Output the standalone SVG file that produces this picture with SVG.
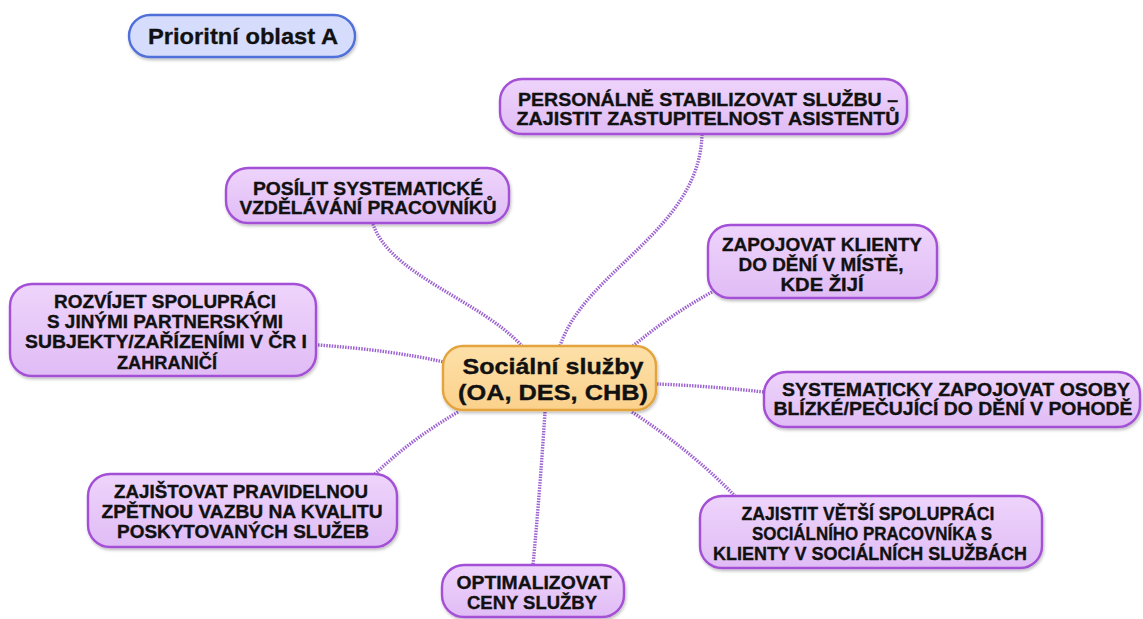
<svg xmlns="http://www.w3.org/2000/svg" width="1143" height="619" viewBox="0 0 1143 619">
<style>
.bg{fill:#ffffff}
.node{fill:url(#purp);stroke:#a34fd6;stroke-width:2.4;filter:url(#sh)}
.center{fill:url(#orng);stroke:#e3a43c;stroke-width:2.4;filter:url(#sh)}
.title{fill:#d6dcfb;stroke:#4f6fd8;stroke-width:2.4;filter:url(#sh)}
.t{font-family:"Liberation Sans",Arial,sans-serif;font-weight:bold;font-size:19px;fill:#111111;stroke:#111111;stroke-width:0.35;text-anchor:middle}
.tc{font-family:"Liberation Sans",Arial,sans-serif;font-weight:bold;font-size:22px;fill:#111111;stroke:#111111;stroke-width:0.35;text-anchor:middle}
.tt{font-family:"Liberation Sans",Arial,sans-serif;font-weight:bold;font-size:22px;fill:#111111;stroke:#111111;stroke-width:0.3;text-anchor:middle}
.c{fill:none;stroke:#9d62d2;stroke-width:3.4;stroke-dasharray:1.5 1.2}
</style>
<defs>
<linearGradient id="purp" x1="0" y1="0" x2="0" y2="1">
<stop offset="0" stop-color="#eed4fb"/>
<stop offset="1" stop-color="#e0bcf5"/>
</linearGradient>
<linearGradient id="orng" x1="0" y1="0" x2="0" y2="1">
<stop offset="0" stop-color="#fde0a8"/>
<stop offset="1" stop-color="#fbd18c"/>
</linearGradient>
<filter id="sh" x="-10%" y="-20%" width="120%" height="150%">
<feDropShadow dx="1" dy="2" stdDeviation="1.5" flood-color="#000000" flood-opacity="0.25"/>
</filter>
</defs>
<rect class="bg" x="0" y="0" width="1143" height="619"/>
<g id="connectors">
<path class="c" d="M560,346 C585,270 700,230 702,134"/>
<path class="c" d="M373,224 C390,275 480,300 522,346"/>
<path class="c" d="M318,345 Q390,350 444,362"/>
<path class="c" d="M712,292 Q670,315 633,346"/>
<path class="c" d="M657,384 Q710,386 764,392"/>
<path class="c" d="M458,412 Q410,440 375,474"/>
<path class="c" d="M545,412 Q540,490 533,565"/>
<path class="c" d="M632,412 Q690,450 735,496"/>
</g>
<g id="title">
<rect class="title" x="129" y="15" width="226" height="42" rx="21"/>
<text class="tt" x="243" y="44" textLength="190" lengthAdjust="spacingAndGlyphs">Prioritní oblast A</text>
</g>
<g id="center">
<rect class="center" x="443" y="346" width="213" height="64" rx="20"/>
<text class="tc" x="553" y="374" textLength="181" lengthAdjust="spacingAndGlyphs">Sociální služby</text>
<text class="tc" x="553" y="400" textLength="190" lengthAdjust="spacingAndGlyphs">(OA, DES, CHB)</text>
</g>
<g id="n-personalne">
<rect class="node" x="500" y="79" width="407" height="55" rx="22"/>
<text class="t" x="708" y="106" textLength="380" lengthAdjust="spacingAndGlyphs">PERSONÁLNĚ STABILIZOVAT SLUŽBU –</text>
<text class="t" x="708" y="125" textLength="383" lengthAdjust="spacingAndGlyphs">ZAJISTIT ZASTUPITELNOST ASISTENTŮ</text>
</g>
<g id="n-posilit">
<rect class="node" x="226" y="168" width="283" height="55" rx="22"/>
<text class="t" x="368" y="195" textLength="230" lengthAdjust="spacingAndGlyphs">POSÍLIT SYSTEMATICKÉ</text>
<text class="t" x="368" y="214" textLength="257" lengthAdjust="spacingAndGlyphs">VZDĚLÁVÁNÍ PRACOVNÍKŮ</text>
</g>
<g id="n-rozvijet">
<rect class="node" x="10" y="284" width="306" height="92" rx="22"/>
<text class="t" x="165" y="308" textLength="222" lengthAdjust="spacingAndGlyphs">ROZVÍJET SPOLUPRÁCI</text>
<text class="t" x="165" y="328" textLength="236" lengthAdjust="spacingAndGlyphs">S JINÝMI PARTNERSKÝMI</text>
<text class="t" x="166" y="348" textLength="282" lengthAdjust="spacingAndGlyphs">SUBJEKTY/ZAŘÍZENÍMI V ČR I</text>
<text class="t" x="167" y="369" textLength="100" lengthAdjust="spacingAndGlyphs">ZAHRANIČÍ</text>
</g>
<g id="n-zapojovat">
<rect class="node" x="708" y="225" width="229" height="73" rx="22"/>
<text class="t" x="822" y="251" textLength="200" lengthAdjust="spacingAndGlyphs">ZAPOJOVAT KLIENTY</text>
<text class="t" x="821" y="271" textLength="165" lengthAdjust="spacingAndGlyphs">DO DĚNÍ V MÍSTĚ,</text>
<text class="t" x="822" y="291" textLength="83" lengthAdjust="spacingAndGlyphs">KDE ŽIJÍ</text>
</g>
<g id="n-systematicky">
<rect class="node" x="764" y="372" width="376" height="55" rx="22"/>
<text class="t" x="956" y="396" textLength="348" lengthAdjust="spacingAndGlyphs">SYSTEMATICKY ZAPOJOVAT OSOBY</text>
<text class="t" x="953" y="415" textLength="359" lengthAdjust="spacingAndGlyphs">BLÍZKÉ/PEČUJÍCÍ DO DĚNÍ V POHODĚ</text>
</g>
<g id="n-zajistovat">
<rect class="node" x="88" y="474" width="309" height="73" rx="22"/>
<text class="t" x="241" y="498" textLength="254" lengthAdjust="spacingAndGlyphs">ZAJIŠTOVAT PRAVIDELNOU</text>
<text class="t" x="242" y="518" textLength="281" lengthAdjust="spacingAndGlyphs">ZPĚTNOU VAZBU NA KVALITU</text>
<text class="t" x="243" y="538" textLength="252" lengthAdjust="spacingAndGlyphs">POSKYTOVANÝCH SLUŽEB</text>
</g>
<g id="n-zajistit">
<rect class="node" x="700" y="496" width="342" height="72" rx="22"/>
<text class="t" x="868" y="520" textLength="253" lengthAdjust="spacingAndGlyphs">ZAJISTIT VĚTŠÍ SPOLUPRÁCI</text>
<text class="t" x="872" y="540" textLength="240" lengthAdjust="spacingAndGlyphs">SOCIÁLNÍHO PRACOVNÍKA S</text>
<text class="t" x="870" y="560" textLength="314" lengthAdjust="spacingAndGlyphs">KLIENTY V SOCIÁLNÍCH SLUŽBÁCH</text>
</g>
<g id="n-optimalizovat">
<rect class="node" x="442" y="565" width="182" height="52" rx="22"/>
<text class="t" x="534" y="589" textLength="155" lengthAdjust="spacingAndGlyphs">OPTIMALIZOVAT</text>
<text class="t" x="532" y="609" textLength="130" lengthAdjust="spacingAndGlyphs">CENY SLUŽBY</text>
</g>
</svg>
